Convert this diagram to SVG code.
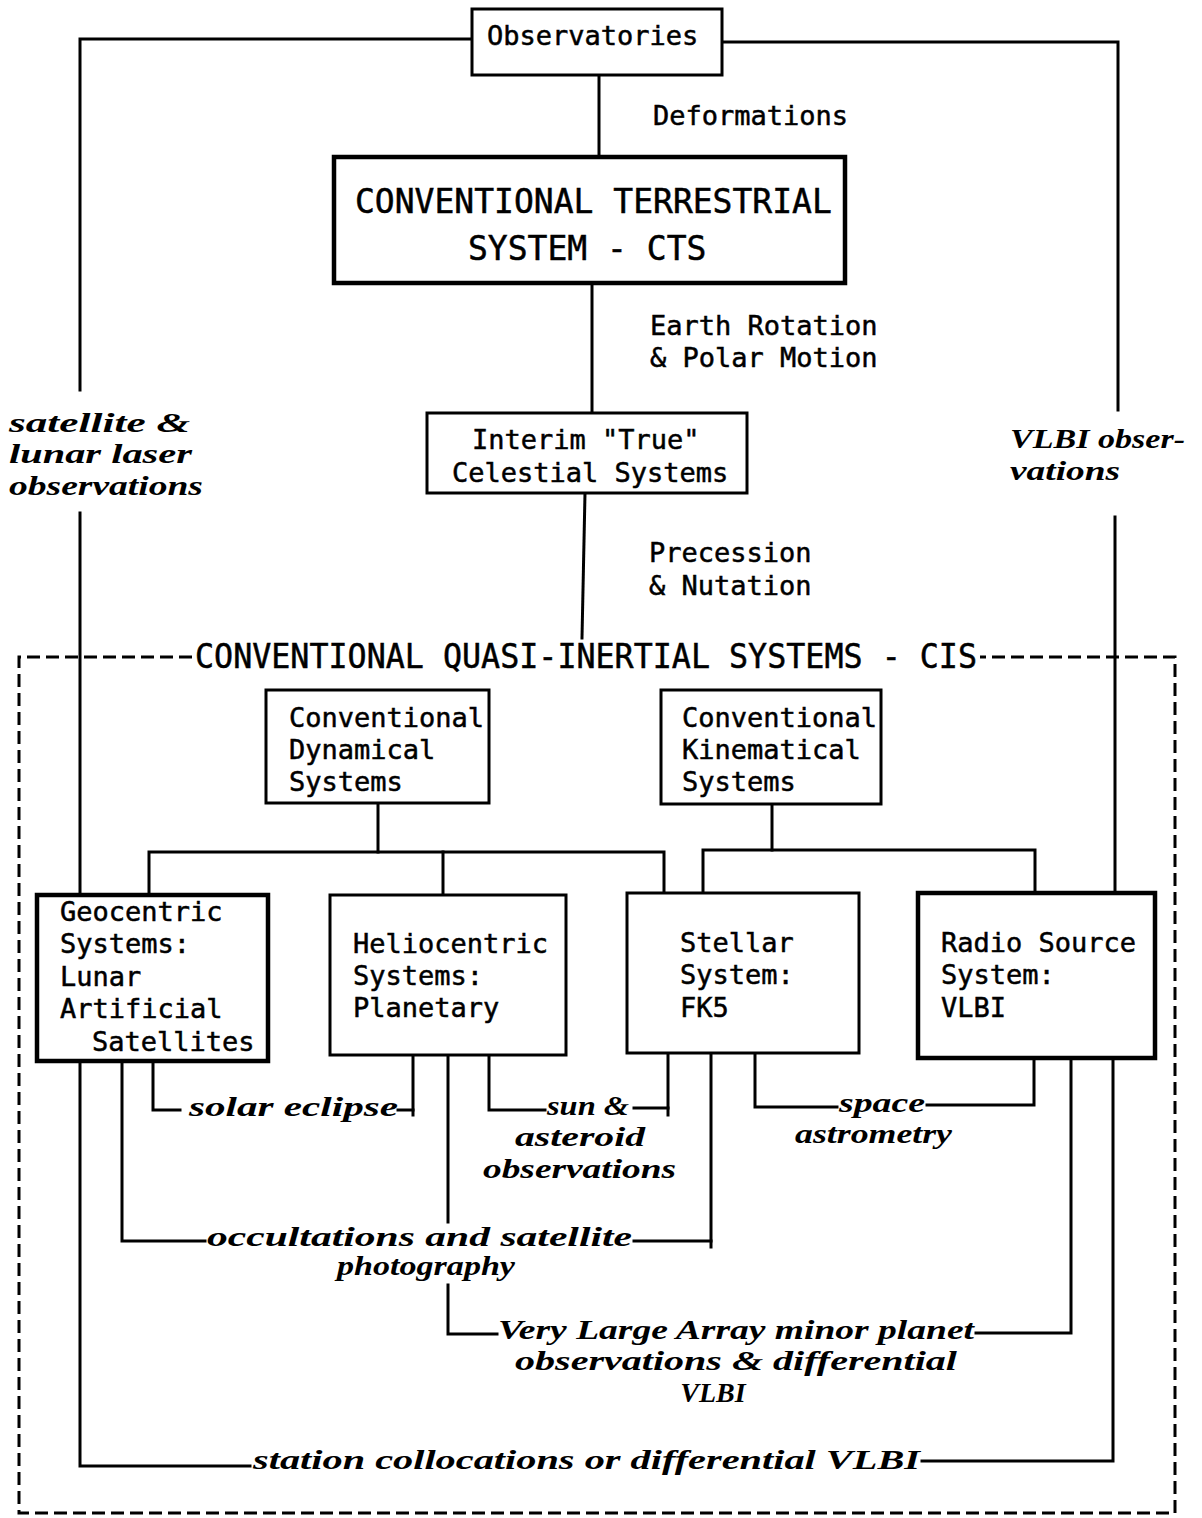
<svg xmlns="http://www.w3.org/2000/svg" width="1202" height="1518" viewBox="0 0 1202 1518">
<style>
.bg{fill:#fff}
.box{fill:#fff;stroke:#000;stroke-width:3}
.thick{stroke-width:4.5}
.ln{fill:none;stroke:#000;stroke-width:3;stroke-linecap:square;stroke-linejoin:miter}
.dash{fill:none;stroke:#000;stroke-width:3;stroke-dasharray:13 6}
.t{font-family:"DejaVu Sans Mono","Liberation Mono",monospace;font-size:27px;fill:#000;stroke:#000;stroke-width:0.5}
.big{font-size:33px}
.s{font-family:"Liberation Serif","DejaVu Serif",serif;font-style:italic;font-weight:bold;font-size:28px;fill:#000}
</style>
<rect class="bg" x="0" y="0" width="1202" height="1518"/>

<g id="cis-frame">
<path class="dash" d="M192,657 H19 V1513 H1175 V657 H980"/>
<text class="t big" x="195" y="668" textLength="782" lengthAdjust="spacingAndGlyphs">CONVENTIONAL QUASI-INERTIAL SYSTEMS - CIS</text>
</g>

<g id="connectors">
<path class="ln" d="M472,39 H80 V390"/>
<path class="ln" d="M80,513 V895"/>
<path class="ln" d="M722,42 H1118 V410"/>
<path class="ln" d="M1115,517 V895"/>
<path class="ln" d="M599,75 V157"/>
<path class="ln" d="M592,285 V413"/>
<path class="ln" d="M585,493 L582,638"/>
<path class="ln" d="M378,803 V852"/>
<path class="ln" d="M149,895 V852 H664 V893"/>
<path class="ln" d="M443,852 V895"/>
<path class="ln" d="M772,804 V850"/>
<path class="ln" d="M703,893 V850 H1035 V893"/>
<path class="ln" d="M80,1061 V1466 H250"/>
<path class="ln" d="M922,1461 H1113 V1058"/>
<path class="ln" d="M153,1061 V1110 H180"/>
<path class="ln" d="M398,1110 H413"/>
<path class="ln" d="M413,1055 V1115"/>
<path class="ln" d="M122,1061 V1241 H205"/>
<path class="ln" d="M634,1241 H711"/>
<path class="ln" d="M711,1053 V1247"/>
<path class="ln" d="M489,1055 V1110 H545"/>
<path class="ln" d="M634,1108 H668"/>
<path class="ln" d="M668,1053 V1115"/>
<path class="ln" d="M755,1053 V1107 H837"/>
<path class="ln" d="M927,1105 H1034 V1058"/>
<path class="ln" d="M448,1055 V1222"/>
<path class="ln" d="M448,1285 V1334 H497"/>
<path class="ln" d="M976,1333 H1071 V1058"/>
</g>

<g id="labels">
<text class="t" x="653" y="125">Deformations</text>
<text class="t" x="650" y="335">Earth Rotation</text>
<text class="t" x="650" y="367">&amp; Polar Motion</text>
<text class="t" x="649" y="562">Precession</text>
<text class="t" x="649" y="595">&amp; Nutation</text>
<text class="s" x="9" y="432" textLength="181" lengthAdjust="spacingAndGlyphs">satellite &amp;</text>
<text class="s" x="9" y="463" textLength="183" lengthAdjust="spacingAndGlyphs">lunar laser</text>
<text class="s" x="9" y="495" textLength="194" lengthAdjust="spacingAndGlyphs">observations</text>
<text class="s" x="1010" y="448" textLength="175" lengthAdjust="spacingAndGlyphs">VLBI obser-</text>
<text class="s" x="1010" y="480" textLength="110" lengthAdjust="spacingAndGlyphs">vations</text>
<text class="s" x="189" y="1116" textLength="209" lengthAdjust="spacingAndGlyphs">solar eclipse</text>
<text class="s" x="547" y="1115" textLength="82" lengthAdjust="spacingAndGlyphs">sun &amp;</text>
<text class="s" x="515" y="1146" textLength="130" lengthAdjust="spacingAndGlyphs">asteroid</text>
<text class="s" x="483" y="1178" textLength="193" lengthAdjust="spacingAndGlyphs">observations</text>
<text class="s" x="839" y="1112" textLength="86" lengthAdjust="spacingAndGlyphs">space</text>
<text class="s" x="795" y="1143" textLength="157" lengthAdjust="spacingAndGlyphs">astrometry</text>
<text class="s" x="207" y="1246" textLength="425" lengthAdjust="spacingAndGlyphs">occultations and satellite</text>
<text class="s" x="337" y="1275" textLength="178" lengthAdjust="spacingAndGlyphs">photography</text>
<text class="s" x="498" y="1339" textLength="476" lengthAdjust="spacingAndGlyphs">Very Large Array minor planet</text>
<text class="s" x="515" y="1370" textLength="442" lengthAdjust="spacingAndGlyphs">observations &amp; differential</text>
<text class="s" x="713" y="1402" text-anchor="middle">VLBI</text>
<text class="s" x="253" y="1469" textLength="667" lengthAdjust="spacingAndGlyphs">station collocations or differential VLBI</text>
</g>

<g id="observatories">
<rect class="box" x="472" y="9" width="250" height="66"/>
<text class="t" x="487" y="45">Observatories</text>
</g>

<g id="cts">
<rect class="box thick" x="334" y="157" width="511" height="126"/>
<text class="t big" x="355" y="213">CONVENTIONAL TERRESTRIAL</text>
<text class="t big" x="468" y="260">SYSTEM - CTS</text>
</g>

<g id="interim">
<rect class="box" x="427" y="413" width="320" height="80"/>
<text class="t" x="472" y="449">Interim "True"</text>
<text class="t" x="452" y="482">Celestial Systems</text>
</g>

<g id="dynamical">
<rect class="box" x="266" y="690" width="223" height="113"/>
<text class="t" x="289" y="727">Conventional</text>
<text class="t" x="289" y="759">Dynamical</text>
<text class="t" x="289" y="791">Systems</text>
</g>

<g id="kinematical">
<rect class="box" x="661" y="690" width="220" height="114"/>
<text class="t" x="682" y="727">Conventional</text>
<text class="t" x="682" y="759">Kinematical</text>
<text class="t" x="682" y="791">Systems</text>
</g>

<g id="geocentric">
<rect class="box thick" x="37" y="895" width="231" height="166"/>
<text class="t" x="60" y="921">Geocentric</text>
<text class="t" x="60" y="953">Systems:</text>
<text class="t" x="60" y="986">Lunar</text>
<text class="t" x="60" y="1018">Artificial</text>
<text class="t" x="92" y="1051">Satellites</text>
</g>

<g id="heliocentric">
<rect class="box" x="330" y="895" width="236" height="160"/>
<text class="t" x="353" y="953">Heliocentric</text>
<text class="t" x="353" y="985">Systems:</text>
<text class="t" x="353" y="1017">Planetary</text>
</g>

<g id="stellar">
<rect class="box" x="627" y="893" width="232" height="160"/>
<text class="t" x="680" y="952">Stellar</text>
<text class="t" x="680" y="984">System:</text>
<text class="t" x="680" y="1017">FK5</text>
</g>

<g id="radio">
<rect class="box thick" x="918" y="893" width="237" height="165"/>
<text class="t" x="941" y="952">Radio Source</text>
<text class="t" x="941" y="984">System:</text>
<text class="t" x="941" y="1017">VLBI</text>
</g>
</svg>
